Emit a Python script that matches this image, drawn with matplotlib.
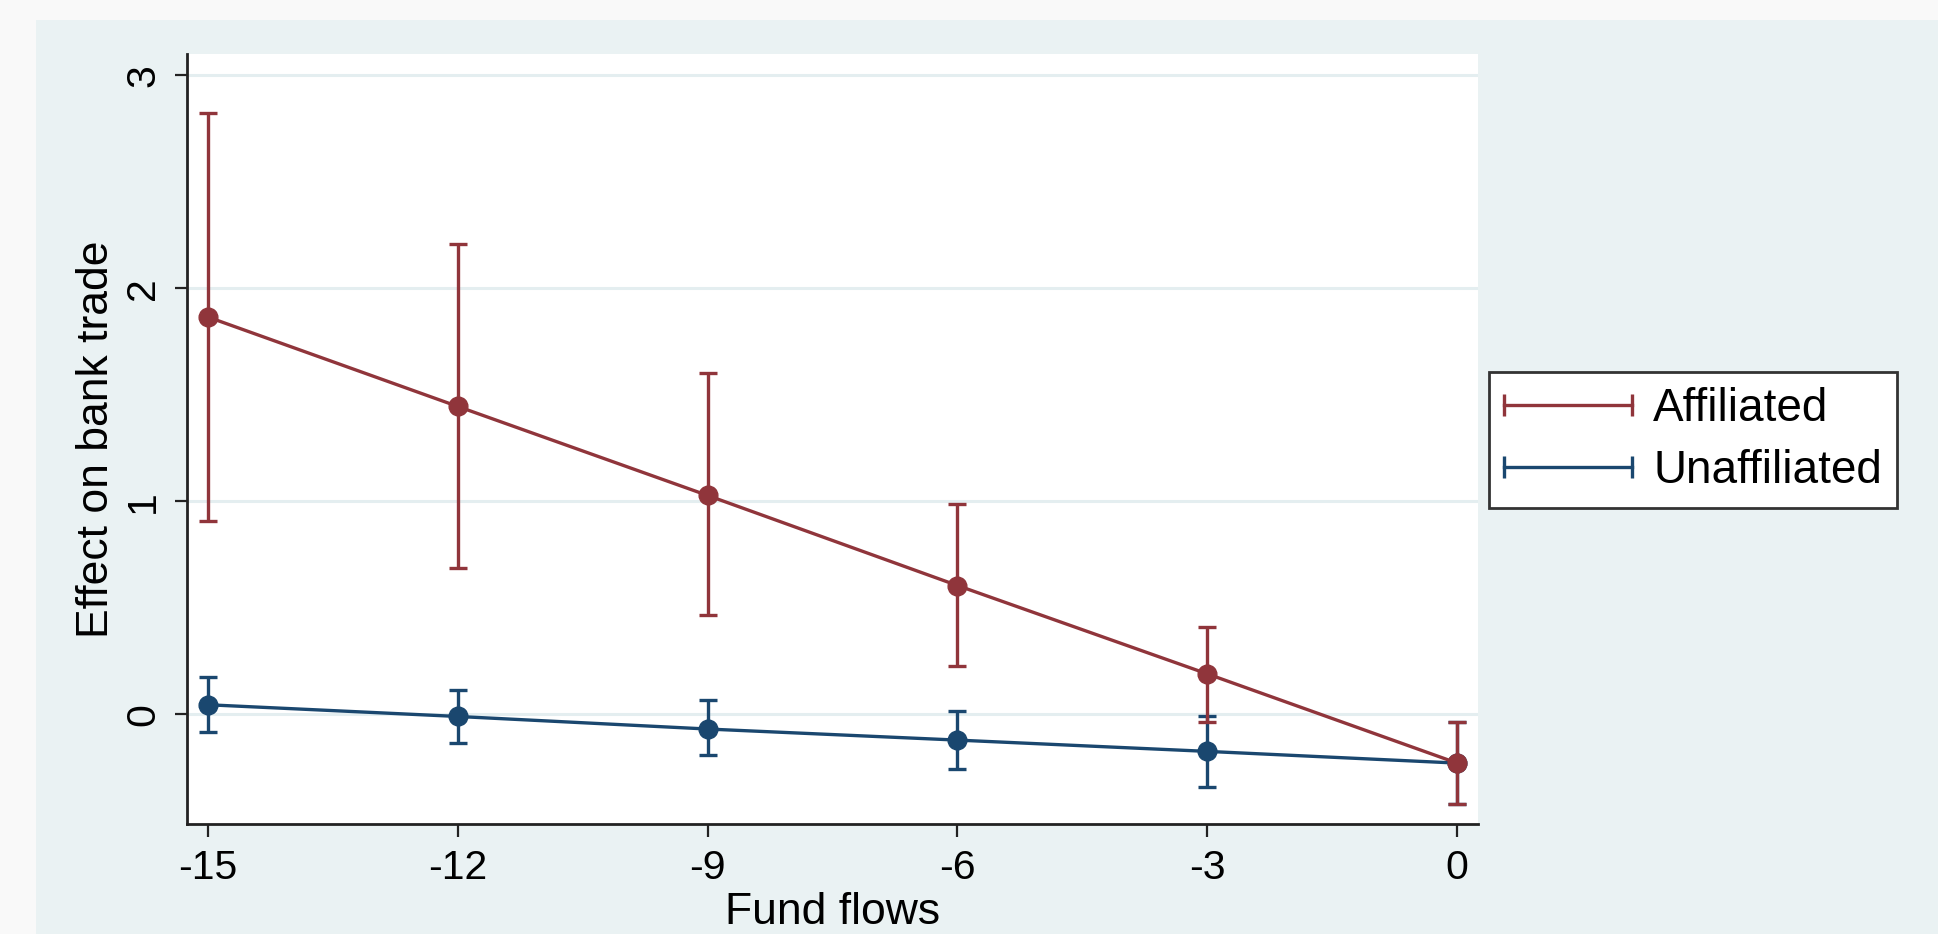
import matplotlib
matplotlib.use('Agg')
import matplotlib.pyplot as plt
from matplotlib.lines import Line2D
from matplotlib.patches import Rectangle
from matplotlib.legend_handler import HandlerLine2D

plt.rcParams['font.family'] = ['Liberation Sans', 'DejaVu Sans']

# dados
fund_flows = [-15, -12, -9, -6, -3, 0]
aff_coef = [1.865, 1.445, 1.027, 0.604, 0.189, -0.23]
aff_hi = [2.822, 2.206, 1.60, 0.987, 0.411, -0.038]
aff_lo = [0.905, 0.685, 0.464, 0.226, -0.035, -0.42]
unaff_coef = [0.044, -0.011, -0.07, -0.122, -0.175, -0.23]
unaff_hi = [0.176, 0.114, 0.064, 0.017, -0.007, -0.038]
unaff_lo = [-0.086, -0.136, -0.19, -0.26, -0.34, -0.42]

x_ticks = [-15, -12, -9, -6, -3, 0]
y_ticks = [0, 1, 2, 3]

cor_aff = '#90353b'
cor_unaff = '#1a476f'
fundo = '#eaf2f3'

fig = plt.figure(figsize=(19.38, 9.34), dpi=100, facecolor='#f9f9f9')
fig.patches.append(Rectangle((36 / 1938, 0), 1, 1 - 20 / 934, transform=fig.transFigure,
                             facecolor=fundo, edgecolor='none', zorder=-10))

ax = fig.add_axes([187 / 1938, 1 - 824 / 934, (1478 - 187) / 1938, (824 - 54) / 934])
ax.set_facecolor('white')


def desenha(coef, lo, hi, cor, z):
    ax.vlines(fund_flows, lo, hi, color=cor, lw=2.4, zorder=z)
    ax.plot(fund_flows, lo, ls='none', marker='_', ms=13, mew=2.4, color=cor, zorder=z)
    ax.plot(fund_flows, hi, ls='none', marker='_', ms=13, mew=2.4, color=cor, zorder=z)
    ax.plot(fund_flows, coef, color=cor, lw=2.4, marker='o', ms=13.5, zorder=z + 1)


desenha(unaff_coef, unaff_lo, unaff_hi, cor_unaff, 3)
desenha(aff_coef, aff_lo, aff_hi, cor_aff, 5)

ax.set_xlim(-15.25, 0.25)
ax.set_ylim(-0.516, 3.1)
ax.set_xticks(x_ticks)
ax.set_xticklabels([str(v) for v in x_ticks])
ax.set_yticks(y_ticks)
ax.set_yticklabels([str(v) for v in y_ticks], rotation=90, va='center')

ax.grid(axis='y', color='#e4eef0', lw=2.2, zorder=1)
ax.grid(axis='x', visible=False)
ax.set_axisbelow(True)

for s in ['top', 'right']:
    ax.spines[s].set_visible(False)
for s in ['left', 'bottom']:
    ax.spines[s].set_linewidth(2)
    ax.spines[s].set_color('#222222')

ax.tick_params(axis='both', length=9, width=1.6, color='#222222', labelsize=29.5)
ax.tick_params(axis='y', pad=9)
ax.tick_params(axis='x', pad=9)

ax.set_ylabel('Effect on bank trade', fontsize=32)
ax.yaxis.set_label_coords(-0.054, 0.5)
ax.set_xlabel('Fund flows', fontsize=32, va='top')
ax.xaxis.set_label_coords(0.5, -0.088)

h_aff = Line2D([], [], color=cor_aff, lw=2.4, marker='|', ms=16, mew=2.4)
h_unaff = Line2D([], [], color=cor_unaff, lw=2.4, marker='|', ms=16, mew=2.4)
leg = fig.legend([h_aff, h_unaff], ['Affiliated', 'Unaffiliated'],
                 loc='center left', bbox_to_anchor=(1489 / 1938, 1 - 440 / 934),
                 fontsize=33, numpoints=2, handlelength=2.8, handletextpad=0.45,
                 labelspacing=0.38, borderpad=0.33, fancybox=False, framealpha=1,
                 edgecolor='#333333', borderaxespad=0,
                 handler_map={Line2D: HandlerLine2D(marker_pad=0)})
leg.get_frame().set_linewidth(2)

fig.savefig('out.png', dpi=100, facecolor=fig.get_facecolor())
